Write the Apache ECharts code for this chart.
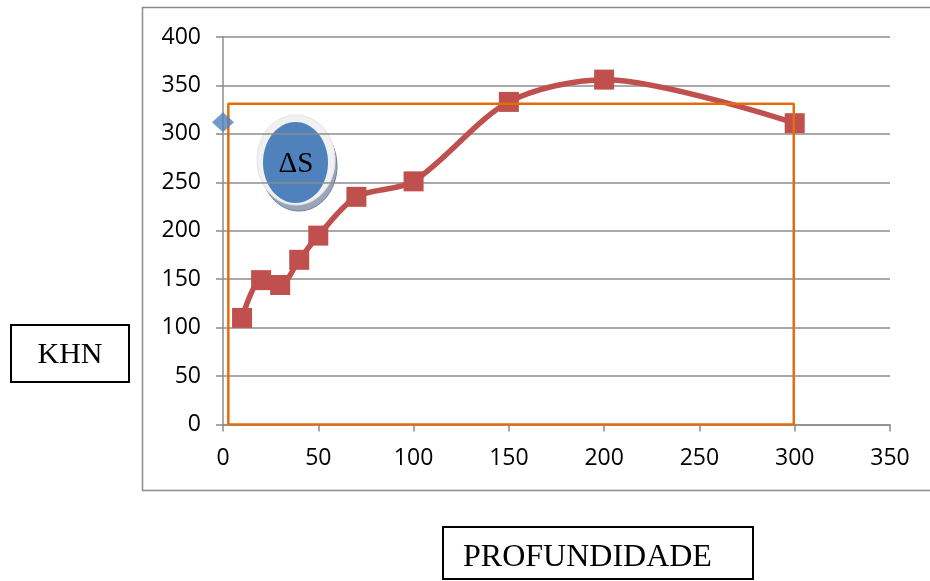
<!DOCTYPE html>
<html>
<head>
<meta charset="utf-8">
<title>KHN x Profundidade</title>
<script src="https://cdn.jsdelivr.net/npm/echarts@6/dist/echarts.min.js"></script>
<style>
  html, body { margin: 0; padding: 0; background: #fff; }
  #chart { width: 930px; height: 581px; }
</style>
</head>
<body>
<div id="chart"></div>
<script>
// Profundidade (depth) and Knoop hardness readings
var depth = [10, 20, 30, 40, 50, 70, 100, 150, 200, 300];
var khn = [110, 149, 144, 170, 195, 235, 251, 333, 356, 311];

// Single reference reading at the surface
var surfaceDepth = [0];
var surfaceKhn = [312];

// Region ΔS, outlined as a rectangle (depth range x hardness range)
var regionDepth = [2.8, 299.5];
var regionKhn = [0, 331];

// Axis scales
var xTicks = { min: 0, max: 350, step: 50 };
var yTicks = { min: 0, max: 400, step: 50 };

var hardnessPoints = depth.map(function (d, i) { return [d, khn[i]]; });
var surfacePoints = surfaceDepth.map(function (d, i) { return [d, surfaceKhn[i]]; });
var regionOutline = [
  [regionDepth[0], regionKhn[0]],
  [regionDepth[0], regionKhn[1]],
  [regionDepth[1], regionKhn[1]],
  [regionDepth[1], regionKhn[0]],
  [regionDepth[0], regionKhn[0]]
];

var gridColor = '#8c8c8c';
var tickFont = '"Open Sans", sans-serif';
var serif = '"Liberation Serif", "DejaVu Serif", serif';

var chart = echarts.init(document.getElementById('chart'), null, { renderer: 'canvas' });

chart.setOption({
  animation: false,
  backgroundColor: '#ffffff',
  grid: { left: 223, top: 37, right: 40, bottom: 156.5 },
  xAxis: {
    type: 'value',
    min: xTicks.min, max: xTicks.max, interval: xTicks.step,
    axisLine: { show: true, onZero: false, lineStyle: { color: gridColor, width: 1.5 } },
    axisTick: { show: true, inside: false, length: 7, lineStyle: { color: gridColor, width: 1.5 } },
    axisLabel: { color: '#000', fontFamily: tickFont, fontSize: 23, margin: 22 },
    splitLine: { show: false }
  },
  yAxis: {
    type: 'value',
    min: yTicks.min, max: yTicks.max, interval: yTicks.step,
    axisLine: { show: true, onZero: false, lineStyle: { color: gridColor, width: 1.5 } },
    axisTick: { show: true, inside: false, length: 7, lineStyle: { color: gridColor, width: 1.5 } },
    axisLabel: { color: '#000', fontFamily: tickFont, fontSize: 23, margin: 22 },
    splitLine: { show: true, lineStyle: { color: gridColor, width: 1.5 } }
  },
  series: [
    {
      name: 'KHN',
      type: 'line',
      data: hardnessPoints,
      smooth: 0.3,
      symbol: 'rect',
      symbolSize: 20,
      lineStyle: { color: '#C0504D', width: 5.5 },
      itemStyle: { color: '#C0504D' },
      z: 3
    },
    {
      name: 'ΔS',
      type: 'line',
      data: regionOutline,
      symbol: 'none',
      lineStyle: { color: '#E46C0A', width: 2.5 },
      silent: true,
      z: 4
    },
    {
      name: 'Superfície',
      type: 'scatter',
      data: surfacePoints,
      symbol: 'diamond',
      symbolSize: [22, 20],
      itemStyle: { color: '#4F81BD' },
      z: 5
    }
  ],
  graphic: [
    // chart frame
    {
      type: 'rect', silent: true, z: -1,
      shape: { x: 142.5, y: 7.5, width: 800, height: 483 },
      style: { fill: null, stroke: '#8c8c8c', lineWidth: 1.5 }
    },
    // axis title boxes
    {
      type: 'group', left: 10, top: 324,
      children: [
        { type: 'rect', shape: { x: 0, y: 0, width: 118, height: 57 },
          style: { fill: '#fff', stroke: '#000', lineWidth: 2 } },
        { type: 'text', x: 59, y: 30,
          style: { text: 'KHN', fontFamily: serif, fontSize: 30, fill: '#000', align: 'center', verticalAlign: 'middle' } }
      ]
    },
    {
      type: 'group', left: 442, top: 526,
      children: [
        { type: 'rect', shape: { x: 0, y: 0, width: 310, height: 52 },
          style: { fill: '#fff', stroke: '#000', lineWidth: 2 } },
        { type: 'text', x: 20, y: 31,
          style: { text: 'PROFUNDIDADE', fontFamily: serif, fontSize: 32, fill: '#000', align: 'left', verticalAlign: 'middle' } }
      ]
    },
    // ΔS badge
    {
      type: 'group', z: 10,
      children: [
        { type: 'ellipse', shape: { cx: 299, cy: 166, rx: 38, ry: 45 },
          style: { fill: '#9aa6b8', stroke: '#6e7f98', lineWidth: 1 } },
        { type: 'ellipse', shape: { cx: 296, cy: 160, rx: 39, ry: 45 },
          style: { fill: '#f1f1f1', stroke: '#e4e4e4', lineWidth: 1 } },
        { type: 'ellipse', shape: { cx: 295.5, cy: 162.5, rx: 32.5, ry: 40.5 },
          style: { fill: '#4F81BD' } },
        { type: 'text', x: 296, y: 164,
          style: { text: 'ΔS', fontFamily: serif, fontSize: 29, fill: '#000', align: 'center', verticalAlign: 'middle' } }
      ]
    }
  ]
});
</script>
</body>
</html>
